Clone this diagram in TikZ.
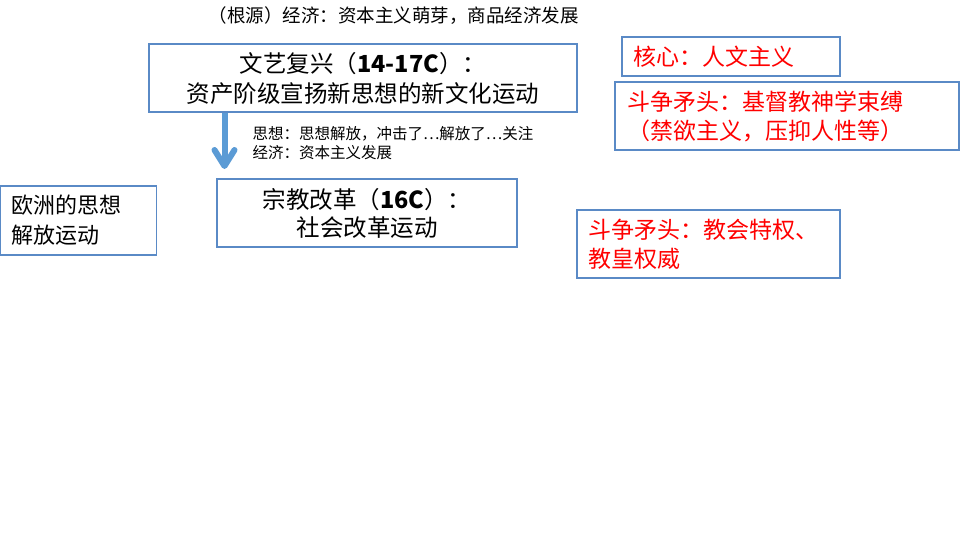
\documentclass[tikz,border=0pt]{standalone}
\usepackage{fontspec}
\setmainfont{Noto Sans CJK SC}
\usetikzlibrary{arrows.meta}
\definecolor{boxblue}{HTML}{5A8AC6}
\definecolor{arrblue}{HTML}{5B9BD5}
\begin{document}
\begin{tikzpicture}[x=1pt,y=-1pt,
	box/.style={draw=boxblue,line width=1.1pt,inner sep=0pt,minimum height=#1,align=center},
	box/.default=68pt,
	redtxt/.style={text=red,align=left,font={\fontsize{23}{29}\selectfont}}]
	\useasboundingbox (0,0) rectangle (960,540);
	\node[font={\fontsize{18.5}{22}\selectfont}] (root) at (393.5,16) {（根源）经济：资本主义萌芽，商品经济发展};
	\node[box,minimum width=428pt,text width=428pt,font={\fontsize{23.5}{30}\selectfont}] (wenyi) at (363,78) {文艺复兴（\textbf{14-17C}）：\\ 资产阶级宣扬新思想的新文化运动};
	\node[box,minimum width=300pt,text width=300pt,font={\fontsize{23.5}{28}\selectfont}] (zongjiao) at (367,213) {宗教改革（\textbf{16C}）：\\ 社会改革运动};
	\node[anchor=west,text width=300pt,align=left,font={\fontsize{15.5}{19}\selectfont}] (note) at (249,143.5) {思想：思想解放，冲击了…解放了…关注\\ 经济：资本主义发展};
	\node[box=69pt,text width=134pt,inner xsep=11pt,align=left,font={\fontsize{22}{30}\selectfont}] (ouzhou) at (78.75,220.5) {欧洲的思想\\ 解放运动};
	\node[box=39pt,text width=196pt,inner xsep=11pt,redtxt] (hexin) at (731,56.5) {核心：人文主义};
	\node[box,text width=320pt,inner xsep=12pt,redtxt] (dz1) at (787,116) {斗争矛头：基督教神学束缚\\ （禁欲主义，压抑人性等）};
	\node[box,text width=241pt,inner xsep=11pt,redtxt] (dz2) at (708.5,244) {斗争矛头：教会特权、\\ 教皇权威};
	% arrow between the two movements
	\coordinate (tip) at (224.5,169);
	\draw[arrblue,line width=6pt,-{Straight Barb[length=16pt,width=20pt,round]}] (wenyi.south -| tip) -- (tip);
\end{tikzpicture}
\end{document}
